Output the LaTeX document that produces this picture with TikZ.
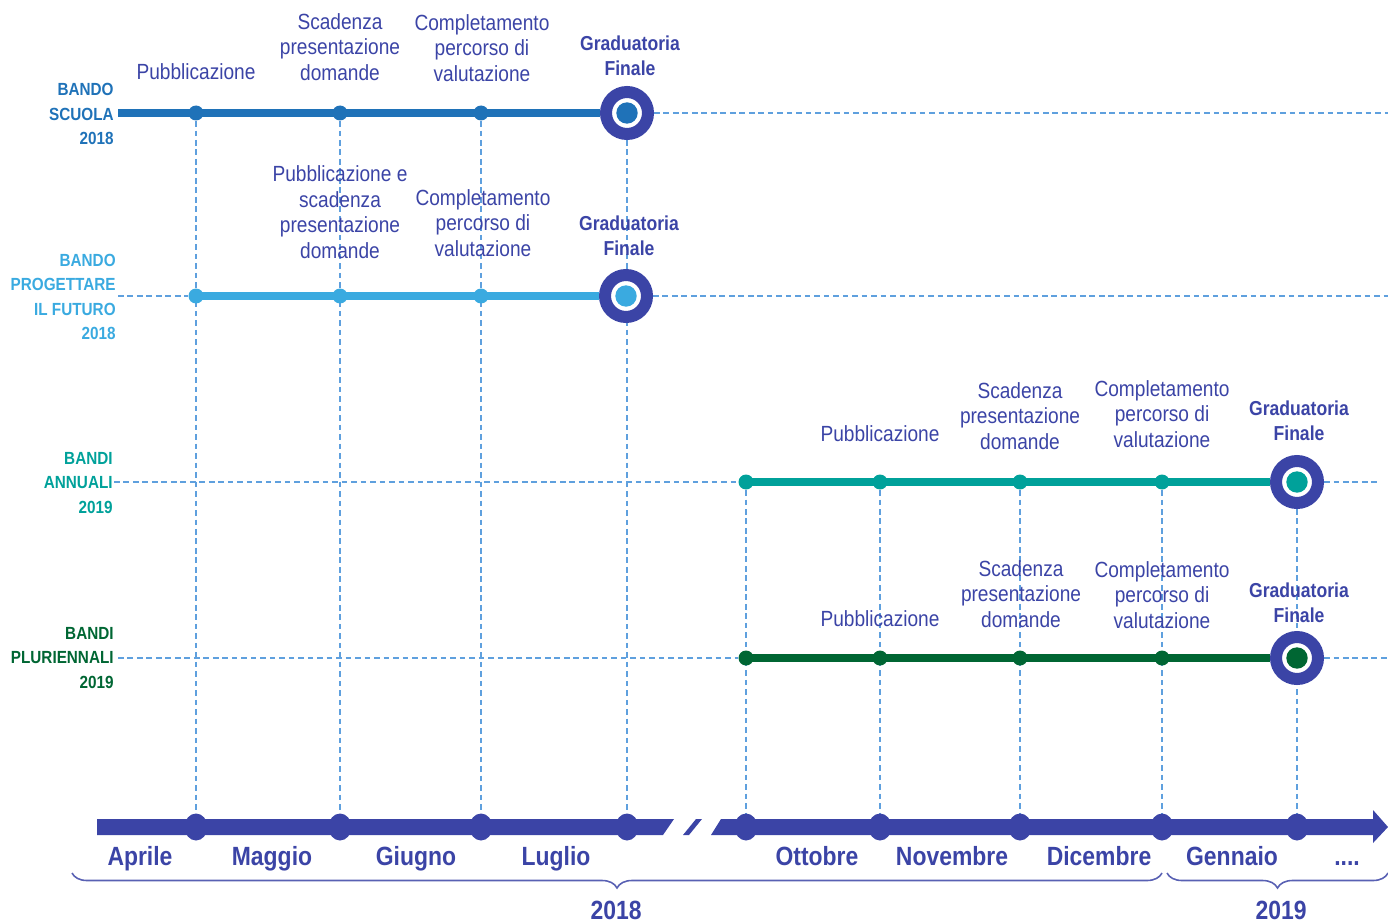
\documentclass[tikz,border=0pt]{standalone}
\usepackage{fontspec}
\setmainfont[FakeStretch=0.87]{Liberation Sans}
\usetikzlibrary{positioning,shapes,arrows,backgrounds,decorations.pathreplacing}
\definecolor{navy}{RGB}{59,68,166}
\definecolor{scuola}{RGB}{31,114,184}
\definecolor{futuro}{RGB}{58,170,224}
\definecolor{annuali}{RGB}{0,161,154}
\definecolor{plurien}{RGB}{0,102,51}
\definecolor{gridblue}{RGB}{95,160,222}
\tikzstyle{dot}=[circle,inner sep=0pt,minimum size=0.3cm]
\tikzstyle{tick}=[ellipse,fill=navy,inner sep=0pt,minimum width=0.46cm,minimum height=0.54cm]
\tikzstyle{bar}=[line width=0.16cm]
\tikzstyle{guide}=[draw=gridblue,line width=0.7pt,dash pattern=on 3.2pt off 2.2pt]
\tikzstyle{note}=[text=navy,inner sep=0pt,align=center,font=\fontsize{12.5}{14.5}\selectfont]
\tikzstyle{strong}=[note,font=\bfseries\fontsize{11.5}{14.3}\selectfont]
\tikzstyle{tag}=[inner sep=0pt,align=right,anchor=east,font=\bfseries\fontsize{10}{14}\selectfont]
\tikzstyle{month}=[text=navy,inner sep=0pt,anchor=base,font=\bfseries\fontsize{15}{18}\selectfont]
\tikzstyle{brace}=[draw=navy!85,line width=0.9pt,decorate,decoration={brace,amplitude=0.3cm}]
\tikzset{final/.style={circle,draw=navy,line width=0.24cm,fill=white,inner sep=0pt,
    minimum size=0.84cm,path picture={\fill[#1] (path picture bounding box.center) circle (0.214cm);}}}
\newcommand{\newDot}[3]{\node[dot,#3](#1) at (#2) {};}
\newcommand{\newNote}[4]{\node[#4](#1) at (#3) {#2};}
\newcommand{\newGuide}[2]{\draw[guide] (#1) -- (#2);}

\begin{document}
\begin{tikzpicture}[x=0.02cm,y=-0.02cm,
        >=latex,
        semithick  %one unit = one pixel of the sketch
        ]
        \useasboundingbox (0,0) rectangle (1388,922);
        % bando scuola
        \coordinate (sL) at (118,113);
        \coordinate (sR) at (1388,113);
        \newDot{s1}{196,113}{fill=scuola}
        \newDot{s2}{340,113}{fill=scuola}
        \newDot{s3}{481,113}{fill=scuola}
        \newDot{s4}{627,113}{final=scuola}
        % bando progettare il futuro
        \coordinate (pL) at (118,296);
        \coordinate (pR) at (1388,296);
        \newDot{p1}{196,296}{fill=futuro}
        \newDot{p2}{340,296}{fill=futuro}
        \newDot{p3}{481,296}{fill=futuro}
        \newDot{p4}{626,296}{final=futuro}
        % bandi annuali
        \coordinate (aL) at (114,482);
        \coordinate (aR) at (1380,482);
        \newDot{a0}{746,482}{fill=annuali}
        \newDot{a1}{880,482}{fill=annuali}
        \newDot{a2}{1020,482}{fill=annuali}
        \newDot{a3}{1162,482}{fill=annuali}
        \newDot{a4}{1297,482}{final=annuali}
        % bandi pluriennali
        \coordinate (mL) at (118,658);
        \coordinate (mR) at (1388,658);
        \newDot{m0}{746,658}{fill=plurien}
        \newDot{m1}{880,658}{fill=plurien}
        \newDot{m2}{1020,658}{fill=plurien}
        \newDot{m3}{1162,658}{fill=plurien}
        \newDot{m4}{1297,658}{final=plurien}
        % time axis
        \fill[navy] (97,819) -- (674,819) -- (663,835) -- (97,835) -- cycle;
        \fill[navy] (696,819) -- (702,819) -- (689,835) -- (683,835) -- cycle;
        \fill[navy] (721,819) -- (1373,819) -- (1373,810) -- (1388,827) -- (1373,843)
            -- (1373,835) -- (711,835) -- cycle;
        \newDot{t1}{196,827}{tick}
        \newDot{t2}{340,827}{tick}
        \newDot{t3}{481,827}{tick}
        \newDot{t4}{627,827}{tick}
        \newDot{t5}{746,827}{tick}
        \newDot{t6}{880,827}{tick}
        \newDot{t7}{1020,827}{tick}
        \newDot{t8}{1162,827}{tick}
        \newDot{t9}{1297,827}{tick}

        \draw[bar,draw=scuola] (sL) -- (s1.center) -- (s2.center) -- (s3.center) -- (s4);
        \draw[bar,draw=futuro] (p1.center) -- (p2.center) -- (p3.center) -- (p4);
        \draw[bar,draw=annuali] (a0.center) -- (a1.center) -- (a2.center) -- (a3.center) -- (a4);
        \draw[bar,draw=plurien] (m0.center) -- (m1.center) -- (m2.center) -- (m3.center) -- (m4);

        \begin{pgfonlayer}{background}
        \newGuide{s4}{sR}
        \newGuide{pL}{p1}
        \newGuide{p4}{pR}
        \newGuide{aL}{a0}
        \newGuide{a4}{aR}
        \newGuide{mL}{m0}
        \newGuide{m4}{mR}
        \newGuide{s1}{t1}
        \newGuide{s2}{t2}
        \newGuide{s3}{t3}
        \newGuide{s4}{t4}
        \newGuide{a0}{t5}
        \newGuide{a1}{t6}
        \newGuide{a2}{t7}
        \newGuide{a3}{t8}
        \newGuide{a4}{t9}
        \end{pgfonlayer}

        % row names
        \newNote{nS}{BANDO\\SCUOLA\\2018}{114,114}{tag,text=scuola}
        \newNote{nP}{BANDO\\PROGETTARE\\IL FUTURO\\2018}{116,297}{tag,text=futuro}
        \newNote{nA}{BANDI\\ANNUALI\\2019}{113,483}{tag,text=annuali}
        \newNote{nM}{BANDI\\PLURIENNALI\\2019}{114,658}{tag,text=plurien}
        % steps
        \newNote{ls1}{Pubblicazione}{196,72}{note}
        \newNote{ls2}{Scadenza\\presentazione\\domande}{340,47}{note}
        \newNote{ls3}{Completamento\\percorso di\\valutazione}{482,48}{note}
        \newNote{ls4}{Graduatoria\\Finale}{630,56}{strong}
        \newNote{lp2}{Pubblicazione e\\scadenza\\presentazione\\domande}{340,212}{note}
        \newNote{lp3}{Completamento\\percorso di\\valutazione}{483,223}{note}
        \newNote{lp4}{Graduatoria\\Finale}{629,236}{strong}
        \newNote{la1}{Pubblicazione}{880,434}{note}
        \newNote{la2}{Scadenza\\presentazione\\domande}{1020,416}{note}
        \newNote{la3}{Completamento\\percorso di\\valutazione}{1162,414}{note}
        \newNote{la4}{Graduatoria\\Finale}{1299,421}{strong}
        \newNote{lm1}{Pubblicazione}{880,619}{note}
        \newNote{lm2}{Scadenza\\presentazione\\domande}{1021,594}{note}
        \newNote{lm3}{Completamento\\percorso di\\valutazione}{1162,595}{note}
        \newNote{lm4}{Graduatoria\\Finale}{1299,603}{strong}
        % months
        \newNote{apr}{Aprile}{140,865}{month}
        \newNote{mag}{Maggio}{272,865}{month}
        \newNote{giu}{Giugno}{416,865}{month}
        \newNote{lug}{Luglio}{556,865}{month}
        \newNote{ott}{Ottobre}{817,865}{month}
        \newNote{nov}{Novembre}{952,865}{month}
        \newNote{dic}{Dicembre}{1099,865}{month}
        \newNote{gen}{Gennaio}{1232,865}{month}
        \newNote{etc}{....}{1347,865}{month}
        % years
        \coordinate (b1) at (72,873);
        \coordinate (b2) at (1162,873);
        \coordinate (b3) at (1167,873);
        \coordinate (b4) at (1388,873);
        \draw[brace] (b2) -- (b1);
        \draw[brace] (b4) -- (b3);
        \newNote{y18}{2018}{616,919}{month}
        \newNote{y19}{2019}{1281,919}{month}
        \end{tikzpicture}
\end{document}
